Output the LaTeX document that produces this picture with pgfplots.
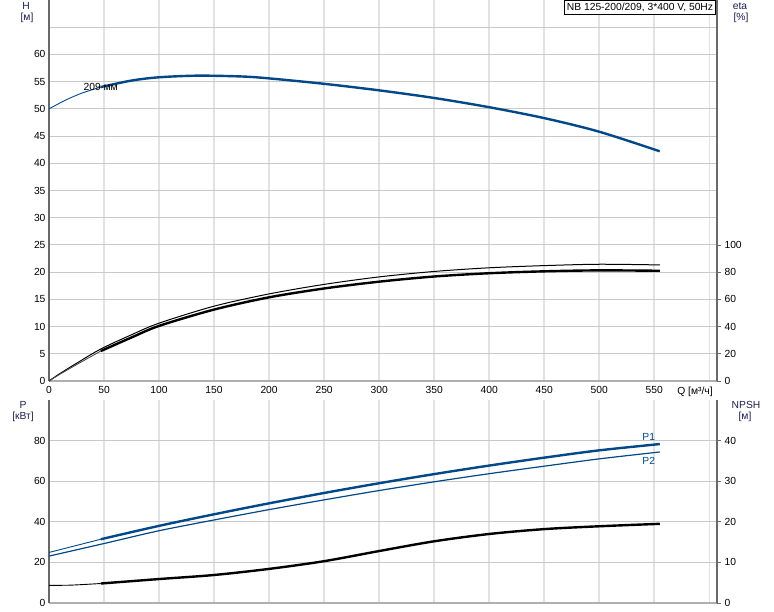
\documentclass[border=0pt]{standalone}
\usepackage{pgfplots}
\pgfplotsset{compat=1.18}
\usepackage{fontspec}
\setmainfont{Liberation Sans}
\definecolor{cblue}{RGB}{0,72,135}
\definecolor{gridh}{RGB}{200,200,200}
\definecolor{gridv}{RGB}{226,226,226}
\definecolor{axdark}{RGB}{105,105,105}
\definecolor{axlight}{RGB}{175,175,175}
\definecolor{lblc}{RGB}{30,30,80}
\begin{document}
\begin{tikzpicture}[x=1pt,y=1pt]
\useasboundingbox (0,0) rectangle (774,611);
\pgfplotsset{
  base/.style={
    scale only axis, width=668pt, xmin=0, xmax=607,
    /pgf/number format/assume math mode=true,
    tick label style={font=\fontsize{10.3}{12}\selectfont, text=black},
    x axis line style={-, draw=axlight, line width=2pt},
    y axis line style={-, draw=axdark, line width=1.6pt},
    x grid style={draw=gridv, line width=1.6pt},
    y grid style={draw=gridh, line width=1pt},
    clip=false,
  },
  leftax/.style={base, axis x line*=bottom, axis y line*=left,
    major tick length=0pt, grid=major,
    xtick={0,50,...,600}},
  rightax/.style={base, axis y line*=right, axis x line=none,
    tick align=outside, major tick length=4pt,
    ytick style={draw=axdark, line width=0.8pt}},
}
% ---------- top panel: H ----------
\begin{axis}[leftax, at={(49pt,230pt)}, anchor=south west, height=381pt,
  ymin=0, ymax=70,
  xticklabels={0,50,100,150,200,250,300,350,400,450,500,550,{}},
  ytick={0,5,...,65},
  yticklabels={0,5,10,15,20,25,30,35,40,45,50,55,60,{}},
  xticklabel style={yshift=-2pt},
]
% H curve
\addplot[cblue, line width=0.9pt, smooth] coordinates {
 (0,50) (15,51.6) (30,52.9) (47,54.0)};
\addplot[cblue, line width=2.4pt, smooth] coordinates {
 (47,54.0) (75,55.2) (100,55.8) (135,56.1) (175,55.95)
 (200,55.6) (250,54.6) (300,53.4) (350,52.0) (400,50.3) (450,48.3)
 (500,45.8) (555,42.2)};
\node[font=\fontsize{10.3}{12}\selectfont] at (axis cs:47,54) {209 мм};
\end{axis}
% ---------- top panel: eta ----------
\begin{axis}[rightax, at={(49pt,230pt)}, anchor=south west, height=381pt,
  ymin=0, ymax=280, ytick={0,20,...,100}]
\addplot[black, line width=1pt, smooth] coordinates {
 (0,0) (10,5.5) (25,13) (47,23.5) (75,34) (100,42.5) (150,55) (200,64)
 (250,71) (300,76.5) (350,80.5) (400,83.2) (450,84.8) (500,85.8) (555,85.3)};
\addplot[black!70, line width=0.9pt, smooth] coordinates {
 (0,0) (10,5) (25,12) (47,22)};
\addplot[black, line width=2.4pt, smooth] coordinates {
 (47,22) (75,32) (100,40.5) (150,52.5) (200,61.5) (250,68) (300,73)
 (350,76.8) (400,79.2) (450,80.6) (500,81.3) (555,81.0)};
\end{axis}
% ---------- bottom panel: P ----------
\begin{axis}[leftax, at={(49pt,8pt)}, anchor=south west, height=203pt,
  ymin=0, ymax=100, xticklabels={},
  ytick={0,20,...,80},
]
\addplot[cblue, line width=0.9pt] coordinates {(0,24.9) (47,31.4)};
\addplot[cblue, line width=2.4pt, smooth] coordinates {
 (47,31.4) (100,38) (150,43.7) (200,49.1) (250,54.2) (300,59) (350,63.5)
 (400,67.7) (450,71.6) (500,75.2) (555,78.3)};
\addplot[cblue, line width=1.2pt, smooth] coordinates {
 (0,23.1) (50,29.3) (100,35.6) (150,40.9) (200,46) (250,50.8) (300,55.4)
 (350,59.7) (400,63.7) (450,67.4) (500,71.0) (555,74.4)};
\node[text=cblue, font=\fontsize{10.3}{12}\selectfont] at (axis cs:545,82) {P1};
\node[text=cblue, font=\fontsize{10.3}{12}\selectfont] at (axis cs:545,70.2) {P2};
\end{axis}
% ---------- bottom panel: NPSH ----------
\begin{axis}[rightax, at={(49pt,8pt)}, anchor=south west, height=203pt,
  ymin=0, ymax=50, ytick={0,10,...,40}]
\addplot[black, line width=0.9pt, smooth] coordinates {(0,4.35) (20,4.4) (47,4.8)};
\addplot[black, line width=2.4pt, smooth] coordinates {
 (47,4.8) (100,5.9) (150,6.9) (200,8.4) (250,10.3) (300,12.8) (350,15.2)
 (400,17.0) (450,18.2) (500,18.9) (555,19.5)};
\end{axis}
% ---------- labels ----------
\begin{scope}[font=\fontsize{10.3}{12}\selectfont]
\node[text=lblc] at (26,605) {H};
\node[text=lblc] at (27,593) {[м]};
\node[text=lblc] at (740,605) {eta};
\node[text=lblc] at (741,593) {[\%]};
\node[text=lblc] at (23,206) {P};
\node[text=lblc] at (23,194) {[кВт]};
\node[text=lblc] at (746,206) {NPSH};
\node[text=lblc] at (745,194) {[м]};
\node at (695,219) {Q [м³/ч]};
\node[draw=black, line width=0.8pt, fill=white, anchor=north east, inner sep=2.5pt] at (716,611) {NB 125-200/209, 3*400 V, 50Hz};
\end{scope}
\end{tikzpicture}
\end{document}
